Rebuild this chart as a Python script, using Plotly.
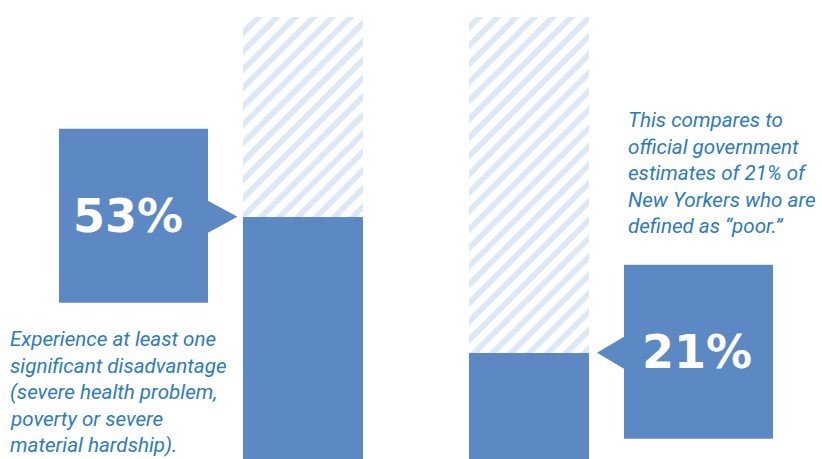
import plotly.graph_objects as go

# ---- data ----
categories = ["Significant disadvantage", "Officially poor"]
values = [53, 21]          # percent of New Yorkers
total = [100, 100]         # full population (hatched background)
value_labels = ["53%", "21%"]
left_note = ["Experience at least one", "significant disadvantage",
             "(severe health problem,", "poverty or severe", "material hardship)."]
right_note = ["This compares to", "official government",
              "estimates of 21% of", "New Yorkers who are",
              "defined as \u201cpoor.\u201d"]

# ---- style ----
W, H = 822, 459
SOLID = "#5c88c4"
HATCH = "#bcd2ec"
TEXT = "#2b7bc2"
BASE = -6
xpos = [0, 1]
PX_X = 226.5                 # pixels per x unit
X0 = -302.5 / PX_X           # left of range
xrange = [X0, X0 + W / PX_X]
K = 4.25                     # pixels per percent
ZERO_PX = 442                # pixel row of 0%
yrange = [-(H - ZERO_PX) / K, ZERO_PX / K]
BAR_W = 120 / PX_X

fig = go.Figure()
fig.add_trace(go.Bar(
    x=xpos, y=[t - BASE for t in total], base=BASE, width=BAR_W,
    marker=dict(color="white", line=dict(width=0),
                pattern=dict(shape="/", fgcolor=HATCH, bgcolor="white",
                             size=13, solidity=0.45)),
    hoverinfo="skip", showlegend=False))
fig.add_trace(go.Bar(
    x=xpos, y=[v - BASE for v in values], base=BASE, width=BAR_W,
    marker=dict(color=SOLID, line=dict(width=0)),
    hoverinfo="skip", showlegend=False))

# callout boxes (pixel geometry relative to bar top)
callouts = [
    (0, -65, -94.5, -243.5),
    (1, 68, 95, 244),
]
shapes = []
for (i, tip, near, far) in callouts:
    top, bot, ah = 88, -86, 16
    path = (f"M {tip},0 L {near},{ah} L {near},{top} L {far},{top} "
            f"L {far},{bot} L {near},{bot} L {near},{-ah} Z")
    shapes.append(dict(type="path", xref="x", yref="y",
                       xsizemode="pixel", ysizemode="pixel",
                       xanchor=xpos[i], yanchor=values[i], path=path,
                       fillcolor=SOLID, line=dict(width=0), layer="above"))

annotations = []
for i, (lbl, dx) in enumerate(zip(value_labels, [-175, 168])):
    annotations.append(dict(x=xpos[i], y=values[i], xref="x", yref="y",
                            text=f"<b>{lbl}</b>", showarrow=False,
                            xshift=dx, yshift=1,
                            font=dict(family="DejaVu Sans", size=46, color="white"),
                            xanchor="center", yanchor="middle"))

LINE = 26.5
NOTE_FONT = dict(family="Roboto", size=20.6, color=TEXT, weight=400)
for j, line in enumerate(left_note):
    annotations.append(dict(x=8 / W, y=1 - (339 + j * LINE) / H,
                            xref="paper", yref="paper", text=f"<i>{line}</i>",
                            showarrow=False, xanchor="left", yanchor="middle",
                            font=NOTE_FONT))
for j, line in enumerate(right_note):
    annotations.append(dict(x=626 / W, y=1 - (120 + j * LINE) / H,
                            xref="paper", yref="paper", text=f"<i>{line}</i>",
                            showarrow=False, xanchor="left", yanchor="middle",
                            font=NOTE_FONT))

fig.update_layout(
    width=W, height=H, autosize=False,
    margin=dict(l=0, r=0, t=0, b=0),
    paper_bgcolor="white", plot_bgcolor="white",
    barmode="overlay", bargap=0,
    xaxis=dict(range=xrange, visible=False, fixedrange=True),
    yaxis=dict(range=yrange, visible=False, fixedrange=True),
    shapes=shapes, annotations=annotations,
)
fig.write_html("out.html", config={"displayModeBar": False},
               post_script="document.body.style.margin='0';document.body.style.overflow='hidden';")
